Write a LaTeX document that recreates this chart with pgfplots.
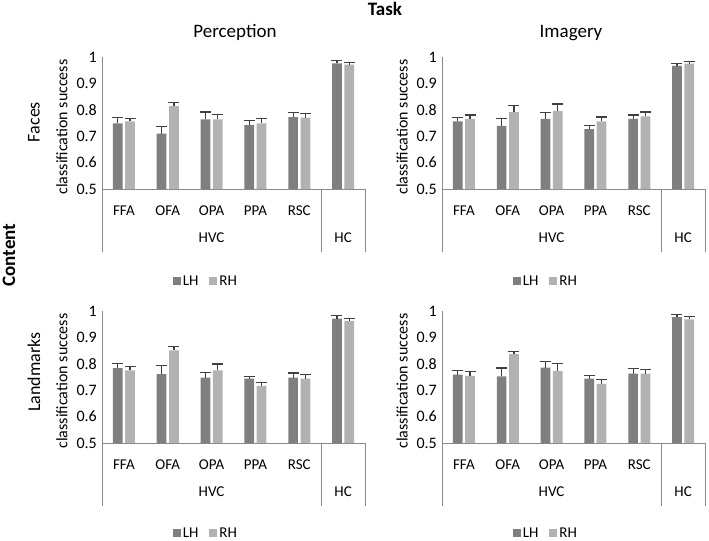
\documentclass[border=0pt]{standalone}
\usepackage{fontspec}
\setmainfont{Carlito}
\usepackage{pgfplots}
\usepackage{pgfplotstable}
\pgfplotsset{compat=1.18}
\definecolor{lhgray}{HTML}{7F7F7F}
\definecolor{rhgray}{HTML}{B2B2B2}
\definecolor{errc}{HTML}{404040}
\definecolor{axc}{HTML}{898989}

\pgfplotstableread{
x lh lhe rh rhe
0 0.749 0.021 0.756 0.011
1 0.710 0.027 0.814 0.015
2 0.764 0.028 0.764 0.017
3 0.742 0.016 0.749 0.019
4 0.772 0.019 0.770 0.015
5 0.976 0.010 0.971 0.009
}\PF
\pgfplotstableread{
x lh lhe rh rhe
0 0.756 0.016 0.766 0.014
1 0.739 0.028 0.791 0.024
2 0.766 0.025 0.796 0.026
3 0.727 0.014 0.756 0.017
4 0.766 0.014 0.775 0.017
5 0.966 0.010 0.975 0.007
}\IF
\pgfplotstableread{
x lh lhe rh rhe
0 0.784 0.017 0.775 0.016
1 0.761 0.033 0.851 0.015
2 0.748 0.020 0.775 0.024
3 0.744 0.009 0.716 0.014
4 0.748 0.017 0.744 0.015
5 0.971 0.011 0.963 0.009
}\PL
\pgfplotstableread{
x lh lhe rh rhe
0 0.759 0.016 0.754 0.017
1 0.752 0.032 0.837 0.009
2 0.786 0.024 0.773 0.027
3 0.744 0.012 0.724 0.017
4 0.763 0.018 0.763 0.014
5 0.977 0.009 0.968 0.010
}\IL

\newcommand{\fs}[1]{\fontsize{#1bp}{#1bp}\selectfont}

\pgfplotsset{
 panel/.style={
  scale only axis, width=263bp, height=132bp,
  xmin=-0.5, xmax=5.5, ymin=0.5, ymax=1,
  axis x line=bottom, axis y line=left,
  axis line style={-, draw=axc, line width=1bp},
  ytick={0.5,0.6,0.7,0.8,0.9,1},
  xtick={0,1,2,3,4,5},
  xticklabels={FFA,OFA,OPA,PPA,RSC,{}},
  major tick length=0pt,
  /pgf/number format/assume math mode=true,
  yticklabel style={font=\fs{16}, anchor=east, inner sep=0pt, xshift=-5bp},
  xticklabel style={font=\fs{15}, anchor=base, inner sep=0pt, yshift=-26.5bp},
  ybar=2.6bp, bar width=9.7bp,
  clip=false,
  legend style={draw=none, fill=none, legend columns=2, font=\fs{15}, anchor=center, inner sep=0pt,
    /tikz/every even column/.append style={column sep=9bp}},
  legend cell align=left,
 },
 lhplot/.style={fill=lhgray, draw=none,
  legend image code/.code={\fill[lhgray] (0bp,-4bp) rectangle (8bp,4bp);},
  error bars/.cd, y dir=plus, y explicit,
  error bar style={draw=errc, line width=1.2bp},
  error mark options={draw=errc, line width=1.2bp, mark size=5.5bp, rotate=90}},
 rhplot/.style={fill=rhgray, draw=none,
  legend image code/.code={\fill[rhgray] (0bp,-4bp) rectangle (8bp,4bp);},
  error bars/.cd, y dir=plus, y explicit,
  error bar style={draw=errc, line width=1.2bp},
  error mark options={draw=errc, line width=1.2bp, mark size=5.5bp, rotate=90}},
}

\newcommand{\panelextras}{%
  \draw[axc, line width=1bp] (axis cs:-0.5,0.5) -- ++(0pt,-63bp);
  \draw[axc, line width=1bp] (axis cs:4.5,0.5) -- ++(0pt,-63bp);
  \draw[axc, line width=1bp] (axis cs:5.5,0.5) -- ++(0pt,-63bp);
  \path (axis cs:2,0.5) ++(0pt,-53bp) node[anchor=base, font=\fs{15}, inner sep=0pt] {HVC};
  \path (axis cs:5,0.5) ++(0pt,-53bp) node[anchor=base, font=\fs{15}, inner sep=0pt] {HC};
  \path (rel axis cs:0,0.5) ++(-40bp,-4bp) node[rotate=90, font=\fs{16}, inner sep=0pt] {classification success};
}

\begin{document}
\begin{tikzpicture}
\path[use as bounding box] (0,0) rectangle (709bp,-541bp);

\node[anchor=base, font=\fs{19}\bfseries, inner sep=0pt] at (385bp,-15bp) {Task};
\node[anchor=base, font=\fs{19}, inner sep=0pt] at (235bp,-37bp) {Perception};
\node[anchor=base, font=\fs{19}, inner sep=0pt] at (571bp,-37bp) {Imagery};
\node[rotate=90, font=\fs{19}\bfseries, inner sep=0pt] at (9bp,-255bp) {Content};
\node[rotate=90, font=\fs{18}, inner sep=0pt] at (34bp,-122bp) {Faces};
\node[rotate=90, font=\fs{18}, inner sep=0pt] at (34bp,-372bp) {Landmarks};

% Perception / Faces
\begin{axis}[panel, at={(102bp,-189bp)}, anchor=south west,
  legend style={at={(0.395,-0.70)}}]
\addplot[lhplot] table[x=x, y=lh, y error=lhe] {\PF};
\addplot[rhplot] table[x=x, y=rh, y error=rhe] {\PF};
\legend{LH,RH}
\panelextras
\end{axis}

% Imagery / Faces
\begin{axis}[panel, at={(442bp,-189bp)}, anchor=south west,
  legend style={at={(0.395,-0.70)}}]
\addplot[lhplot] table[x=x, y=lh, y error=lhe] {\IF};
\addplot[rhplot] table[x=x, y=rh, y error=rhe] {\IF};
\legend{LH,RH}
\panelextras
\end{axis}

% Perception / Landmarks
\begin{axis}[panel, at={(102bp,-443bp)}, anchor=south west,
  legend style={at={(0.395,-0.685)}}]
\addplot[lhplot] table[x=x, y=lh, y error=lhe] {\PL};
\addplot[rhplot] table[x=x, y=rh, y error=rhe] {\PL};
\legend{LH,RH}
\panelextras
\end{axis}

% Imagery / Landmarks
\begin{axis}[panel, at={(442bp,-443bp)}, anchor=south west,
  legend style={at={(0.395,-0.685)}}]
\addplot[lhplot] table[x=x, y=lh, y error=lhe] {\IL};
\addplot[rhplot] table[x=x, y=rh, y error=rhe] {\IL};
\legend{LH,RH}
\panelextras
\end{axis}
\end{tikzpicture}
\end{document}
